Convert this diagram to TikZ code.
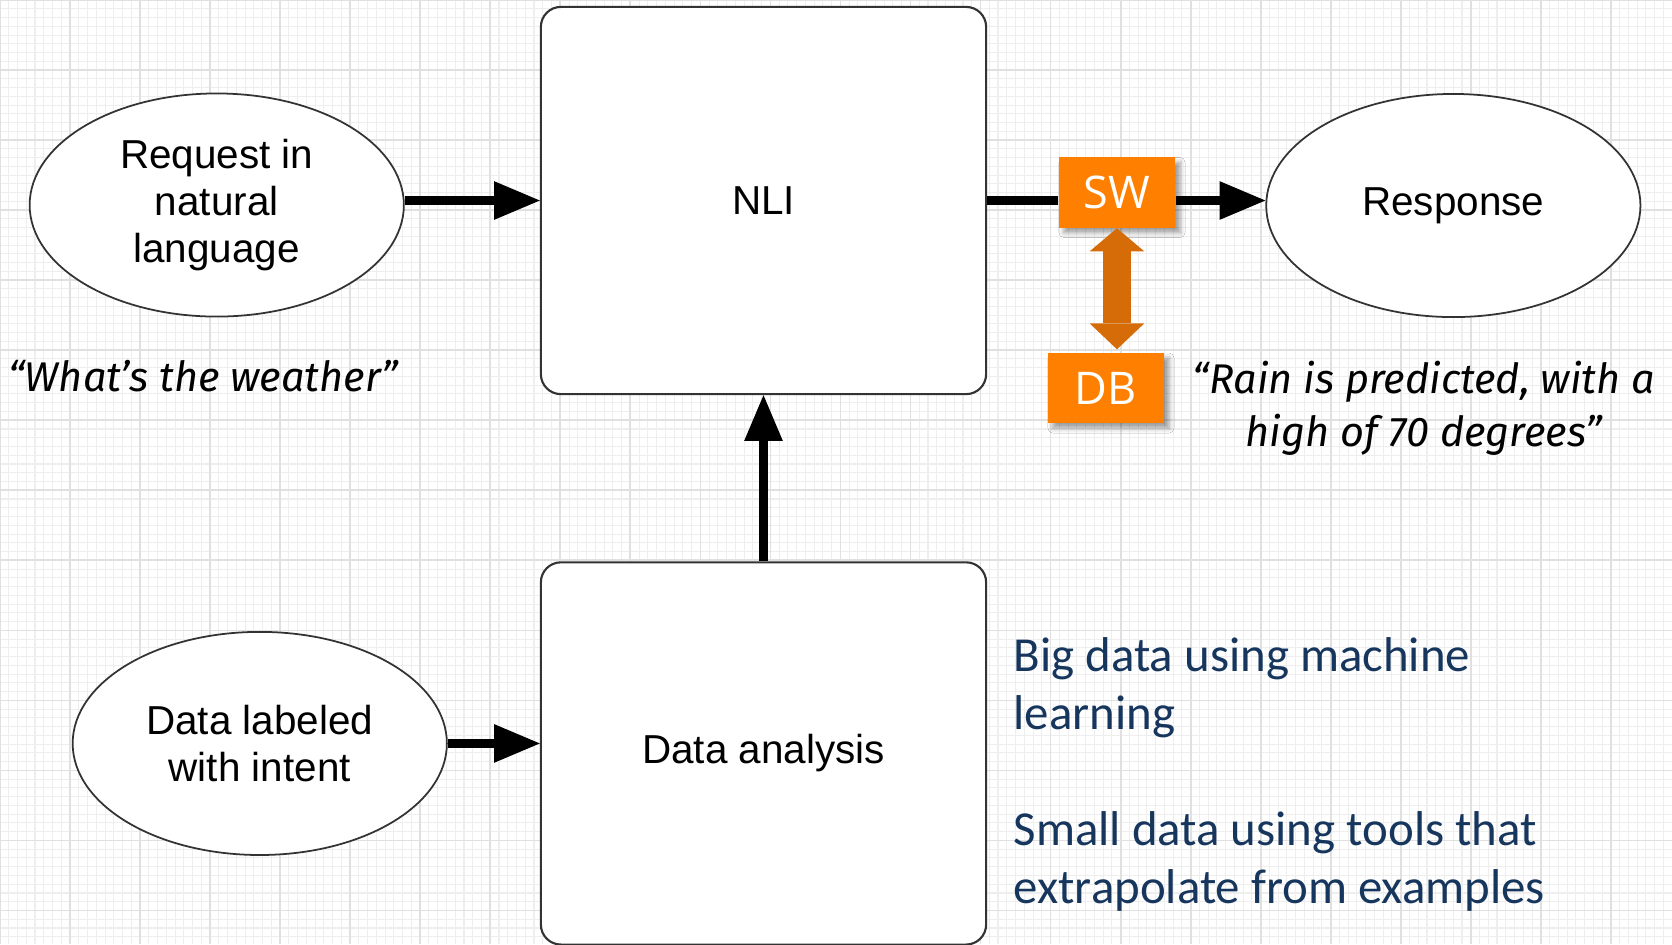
\documentclass[tikz,border=0pt]{standalone}
\usepackage{fontspec}
\setmainfont{Liberation Sans}
\newfontfamily\boxfont{Open Sans}
\newfontfamily\notefont{Carlito}
\newfontfamily\handfont{Fira Sans}
\usepackage{xcolor}
\definecolor{orangeBox}{RGB}{255,128,0}
\definecolor{orangeArrow}{RGB}{214,108,8}
\definecolor{navyNote}{RGB}{23,54,93}
\definecolor{gridFine}{RGB}{238,238,238}
\definecolor{gridMajor}{RGB}{224,224,224}
\usepackage{tikz}
\usetikzlibrary{shapes.geometric, arrows.meta, positioning, shadows.blur}

\begin{document}
\begin{tikzpicture}[
  x=0.01cm, y=-0.01cm,
  block/.style={rectangle, rounded corners=0.2cm, draw=black!80, line width=0.6pt,
                fill=white, minimum width=4.45cm, inner sep=0pt, align=center,
                font=\fontsize{11.5}{13.4}\selectfont},
  bubble/.style={ellipse, draw=black!80, line width=0.5pt, fill=white,
                 minimum width=3.74cm, minimum height=2.23cm, inner sep=0pt,
                 align=center, font=\fontsize{11.5}{13.4}\selectfont},
  swbox/.style={rectangle, fill=orangeBox, text=white, inner sep=0pt,
                minimum width=1.16cm, minimum height=0.70cm,
                font=\boxfont\fontsize{12.8}{14}\selectfont,
                blur shadow={shadow xshift=0.05cm, shadow yshift=-0.05cm,
                             shadow blur radius=0.05cm, shadow opacity=40}},
  saying/.style={align=center, inner sep=0pt,
                 font=\handfont\itshape\fontsize{11.8}{15}\selectfont},
  remark/.style={anchor=west, align=left, inner sep=0pt, text=navyNote,
                 font=\notefont\fontsize{13.9}{16.5}\selectfont},
  arrow/.style={-{Triangle[length=13pt, width=11pt, line width=0pt]}, line width=2.6pt},
  dbarrow/.style={{Triangle[length=6.6pt, width=15.6pt, line width=0pt]}-{Triangle[length=7.4pt, width=15.6pt, line width=0pt]},
                  line width=8pt, color=orangeArrow},
  node distance=1.35cm
]

% Grid paper
\useasboundingbox (0,0) rectangle (1672,944);
\fill[white] (0,0) rectangle (1672,944);
\draw[gridFine, line width=0.3pt, step=0.0875cm] (0,944) grid (1672,0);
\draw[gridMajor, line width=0.5pt, step=0.7cm] (0,944) grid (1672,0);

% Central column
\node[block, minimum height=3.87cm] (nli) at (763.5,200.5) {NLI};
\node[block, minimum height=3.82cm, below=1.66cm of nli] (analysis) {Data analysis};

% Ellipses
\node[bubble, left=1.35cm of nli, yshift=-0.045cm] (request) {Request in\\natural\\language};
\node[bubble, right=2.78cm of nli, yshift=-0.05cm] (response) {Response};
\node[bubble, left=0.92cm of analysis, yshift=0.10cm] (labeled) {Data labeled\\with intent};

% Software and database
\node[swbox, right=0.71cm of nli, yshift=0.08cm] (sw) {SW};
\node[swbox, below=1.24cm of sw, xshift=-0.11cm] (db) {DB};

% Arrows
\draw[arrow] (request.east |- nli.west) -- (nli.west);
\draw[line width=2.6pt] (nli.east) -- (nli.east -| sw.west);
\draw[arrow] (nli.east -| sw.east) -- (nli.east -| response.west);
\draw[arrow] (analysis.north) -- (nli.south);
\draw[arrow] (labeled.east) -- (labeled.east -| analysis.west);
\draw[dbarrow, shorten >=0.03cm] (sw.south) -- (sw.south |- db.north);

% Example utterances
\node[saying] (weather) at (203,376) {“What’s the weather”};
\node[saying] (rain) at (1424,408) {“Rain is predicted, with a\\high of 70 degrees”};

% Notes
\node[remark] (bigdata) at (1013,688) {Big data using machine\\learning};
\node[remark] (smalldata) at (1013,861) {Small data using tools that\\extrapolate from examples};

\end{tikzpicture}
\end{document}
